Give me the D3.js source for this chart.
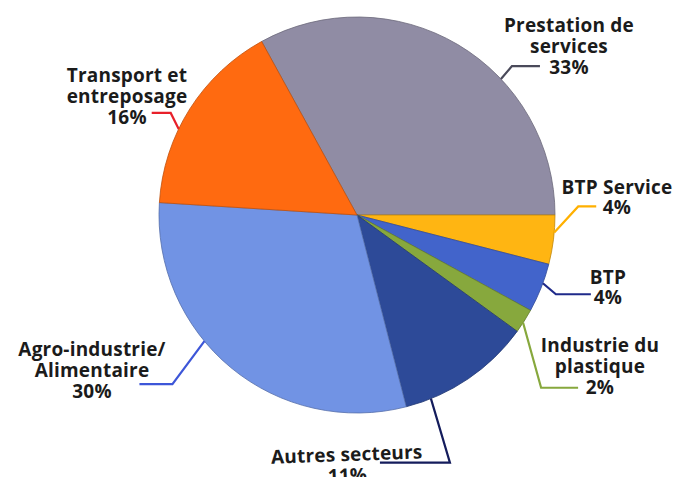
<!DOCTYPE html>
<html>
<head>
<meta charset="utf-8">
<script src="https://cdn.jsdelivr.net/npm/d3@7"></script>
<style>
  html, body { margin: 0; padding: 0; background: #ffffff; }
  svg { display: block; }
  text { font-family: "Open Sans", "DejaVu Sans", sans-serif; font-weight: 700; fill: #1b1b1b; }
</style>
</head>
<body>
<svg id="chart" width="676" height="477"></svg>
<script>
// ---- data ----
const categories = ["Prestation de services", "BTP Service", "BTP", "Industrie du plastique", "Autres secteurs", "Agro-industrie/Alimentaire", "Transport et entreposage"];
const values = [33, 4, 4, 2, 11, 30, 16];
const labelLines = [
  ["Prestation de", "services", "33%"],
  ["BTP Service", "4%"],
  ["BTP", "4%"],
  ["Industrie du", "plastique", "2%"],
  ["Autres secteurs", "11%"],
  ["Agro-industrie/", "Alimentaire", "30%"],
  ["Transport et", "entreposage", "16%"]
];
const colors = ["#908ca4", "#ffb512", "#4264cb", "#87a83d", "#2d4a98", "#7193e4", "#ff6a10"];
const leaderColors = ["#4a4a5a", "#ffb000", "#1f2a8a", "#87a83d", "#141c5c", "#3d56d8", "#e8202a"];

// ---- layout ----
const cx = 357, cy = 215, R = 198;
// label layout: anchor fraction within slice, elbow offset, horizontal length, text center & first baseline
const layout = [
  {frac: 0.635, ex: 11, ey: -13, hx: 28,  tx: 569, ty: 32,  dy: 21},
  {frac: 0.35,  ex: 24, ey: -26, hx: 18,  tx: 617, ty: 194, dy: 20},
  {frac: 0.40,  ex: 13, ey: 11,  hx: 35,  tx: 608, ty: 284, dy: 20},
  {frac: 0.58,  ex: 18, ey: 65,  hx: 37,  tx: 600, ty: 352, dy: 21},
  {frac: 0.81,  ex: 19, ey: 64,  hx: -70, tx: 347, ty: 461, dy: 21, rot: -2},
  {frac: 0.60,  ex: -32, ey: 43, hx: -33, tx: 92,  ty: 356, dy: 21},
  {frac: 0.385, ex: -8, ey: -16, hx: -19, tx: 127, ty: 82,  dy: 21}
];

const svg = d3.select("#chart");
const g = svg.append("g").attr("transform", `translate(${cx},${cy})`);

const total = d3.sum(values);
const startAngle = Math.PI / 2 - (values[0] / total) * 2 * Math.PI;
const pie = d3.pie().sort(null).value(d => d)
  .startAngle(startAngle).endAngle(startAngle + 2 * Math.PI);
const arcs = pie(values);
const arc = d3.arc().innerRadius(0).outerRadius(R);

g.selectAll("path.slice").data(arcs).enter().append("path")
  .attr("class", "slice")
  .attr("d", arc)
  .attr("fill", (d, i) => colors[i])
  .attr("stroke", (d, i) => d3.color(colors[i]).darker(0.8))
  .attr("stroke-width", 0.8)
  .attr("stroke-linejoin", "round");

// leader lines
arcs.forEach((a, i) => {
  const L = layout[i];
  const ang = a.startAngle + (a.endAngle - a.startAngle) * L.frac;
  const px = R * Math.sin(ang), py = -R * Math.cos(ang);
  const p1 = [px, py];
  const p2 = [px + L.ex, py + L.ey];
  const p3 = [p2[0] + L.hx, p2[1]];
  g.append("path")
    .attr("d", d3.line()([p1, p2, p3]))
    .attr("fill", "none")
    .attr("stroke", leaderColors[i])
    .attr("stroke-width", 2.2);
});

// labels
labelLines.forEach((lines, i) => {
  const L = layout[i];
  const t = svg.append("text")
    .attr("text-anchor", "middle")
    .attr("font-size", 19)
    .attr("letter-spacing", 0.2)
    .attr("transform", L.rot ? `rotate(${L.rot},${L.tx},${L.ty})` : null);
  lines.forEach((s, k) => {
    t.append("tspan").attr("x", L.tx).attr("y", L.ty + k * L.dy).text(s);
  });
});
</script>
</body>
</html>
